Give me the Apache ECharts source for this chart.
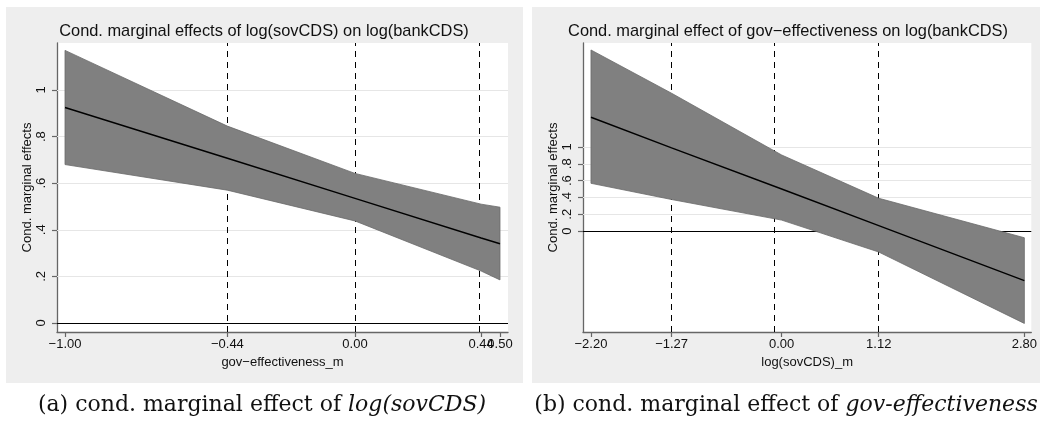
<!DOCTYPE html>
<html>
<head>
<meta charset="utf-8">
<script src="https://cdn.jsdelivr.net/npm/echarts@6/dist/echarts.min.js"></script>
<style>
html,body{margin:0;padding:0;background:#fff;}
#chart{width:1040px;height:425px;}
</style>
</head>
<body>
<div id="chart"></div>
<script>
// ---- Panel (a): marginal effect of log(sovCDS) vs gov-effectiveness_m ----
const leftX      = [-1, -0.44, 0, 0.435, 0.5];
const leftCenter = [0.925, 0.707, 0.535, 0.365, 0.34];
const leftUpper  = [1.17, 0.845, 0.642, 0.51, 0.497];
const leftLower  = [0.68, 0.57, 0.438, 0.223, 0.185];
const leftXTicks = [-1, -0.44, 0, 0.435, 0.5];
const leftXTickLabels = ['\u22121.00', '\u22120.44', '0.00', '0.44', '0.50'];
const leftVLines = [-0.44, 0, 0.435];

// ---- Panel (b): marginal effect of gov-effectiveness vs log(sovCDS)_m ----
const rightX      = [-2.2, -1.27, 0, 1.12, 2.8];
const rightCenter = [1.354, 0.99, 0.5, 0.065, -0.59];
const rightUpper  = [2.155, 1.64, 0.905, 0.39, -0.08];
const rightLower  = [0.568, 0.375, 0.13, -0.25, -1.10];
const rightXTicks = [-2.2, -1.27, 0, 1.12, 2.8];
const rightXTickLabels = ['\u22122.20', '\u22121.27', '0.00', '1.12', '2.80'];
const rightVLines = [-1.27, -0.08, 1.12];

// ---- shared y ticks ----
const yTicks = [0, 0.2, 0.4, 0.6, 0.8, 1];
const yTickLabels = ['0', '.2', '.4', '.6', '.8', '1'];

const titles = ['Cond. marginal effects of log(sovCDS) on log(bankCDS)',
                'Cond. marginal effect of gov\u2212effectiveness on log(bankCDS)'];
const xNames = ['gov\u2212effectiveness_m', 'log(sovCDS)_m'];
const yName = 'Cond. marginal effects';

const SANS = '"Liberation Sans", Arial, sans-serif';
const AXIS_COL = '#666';

function fmt(ticks, labels) {
  return function (v) {
    for (let i = 0; i < ticks.length; i++) if (Math.abs(ticks[i] - v) < 1e-6) return labels[i];
    return '';
  };
}
function zip(a, b) { return a.map((v, i) => [v, b[i]]); }

function bandRender(xs, lo, hi) {
  return function (params, api) {
    const pts = [];
    for (let i = 0; i < xs.length; i++) pts.push(api.coord([xs[i], hi[i]]));
    for (let i = xs.length - 1; i >= 0; i--) pts.push(api.coord([xs[i], lo[i]]));
    return { type: 'polygon', shape: { points: pts },
             style: { fill: '#808080', stroke: '#6a6a6a', lineWidth: 0.8 } };
  };
}

function xAxisCfg(idx, min, max, ticks, labelValues, ticksAll, labels, name) {
  return {
    type: 'value', gridIndex: idx, min: min, max: max,
    name: name, nameLocation: 'middle', nameGap: 20,
    nameTextStyle: { fontFamily: SANS, fontSize: 13, color: '#111' },
    axisLine: { show: true, onZero: false, lineStyle: { color: AXIS_COL, width: 1.3 } },
    axisTick: { show: true, customValues: ticks, length: 5, lineStyle: { color: AXIS_COL, width: 1.2 } },
    axisLabel: { customValues: labelValues, formatter: fmt(ticksAll, labels), margin: 6,
                 showMinLabel: true, showMaxLabel: true, hideOverlap: false,
                 fontFamily: SANS, fontSize: 13, color: '#111' },
    splitLine: { show: false }
  };
}
// extra label-only axis so that overlapping tick labels are both drawn
function overlayXAxis(idx, min, max, labelValues, ticksAll, labels) {
  return {
    type: 'value', gridIndex: idx, min: min, max: max, position: 'bottom',
    axisLine: { show: false, onZero: false }, axisTick: { show: false },
    axisLabel: { customValues: labelValues, formatter: fmt(ticksAll, labels), margin: 6,
                 showMinLabel: true, showMaxLabel: true, hideOverlap: false,
                 fontFamily: SANS, fontSize: 13, color: '#111' },
    splitLine: { show: false }
  };
}
function yAxisCfg(idx, min, max) {
  return {
    type: 'value', gridIndex: idx, min: min, max: max,
    name: yName, nameLocation: 'middle', nameGap: 23, nameRotate: 90,
    nameTextStyle: { fontFamily: SANS, fontSize: 13, color: '#111' },
    axisLine: { show: true, onZero: false, lineStyle: { color: AXIS_COL, width: 1.3 } },
    axisTick: { show: true, customValues: yTicks, length: 5, lineStyle: { color: AXIS_COL, width: 1.2 } },
    axisLabel: { customValues: yTicks, formatter: fmt(yTicks, yTickLabels), rotate: 90, margin: 9,
                 showMinLabel: true, showMaxLabel: true,
                 fontFamily: SANS, fontSize: 13, color: '#111' },
    splitLine: { show: false }
  };
}

function panelSeries(idx, xs, center, lo, hi, vlines) {
  return [
    { // light grid lines
      type: 'line', xAxisIndex: idx, yAxisIndex: idx, data: [], z: 1, silent: true,
      markLine: { z: 1, silent: true, symbol: 'none', label: { show: false }, animation: false,
        lineStyle: { color: '#e6e6e6', width: 1, type: 'solid' },
        data: yTicks.filter(v => v !== 0).map(v => ({ yAxis: v })) }
    },
    { // zero line and dashed reference lines
      type: 'line', xAxisIndex: idx, yAxisIndex: idx, data: [], z: 2, silent: true,
      markLine: { z: 2, silent: true, symbol: 'none', label: { show: false }, animation: false,
        data: [{ yAxis: 0, lineStyle: { color: '#000', width: 1.2, type: 'solid' } }]
          .concat(vlines.map(v => ({ xAxis: v, lineStyle: { color: '#000', width: 1, type: [6, 5] } }))) }
    },
    { // confidence band
      type: 'custom', xAxisIndex: idx, yAxisIndex: idx, z: 10, silent: true,
      renderItem: bandRender(xs, lo, hi), data: [[xs[0], lo[0]]], encode: { x: 0, y: 1 }
    },
    { // estimate
      type: 'line', xAxisIndex: idx, yAxisIndex: idx, z: 11, silent: true,
      data: zip(xs, center), symbol: 'none', lineStyle: { color: '#000', width: 1.4 }
    }
  ];
}

const leftMainLabelValues = leftXTicks.filter((v, i) => i !== 3);
const leftOverlayLabelValues = [leftXTicks[3]];

const chart = echarts.init(document.getElementById('chart'), null, { renderer: 'canvas' });
const option = {
  animation: false,
  backgroundColor: '#fff',
  graphic: [
    { type: 'rect', z: -100, shape: { x: 6, y: 7, width: 517, height: 376 }, style: { fill: '#eeeeee' } },
    { type: 'rect', z: -100, shape: { x: 532, y: 7, width: 508, height: 376 }, style: { fill: '#eeeeee' } },
    { type: 'text', x: 264, y: 31, style: { text: titles[0], font: '16.4px ' + SANS, fill: '#111', align: 'center', verticalAlign: 'middle' } },
    { type: 'text', x: 788, y: 31, style: { text: titles[1], font: '16.4px ' + SANS, fill: '#111', align: 'center', verticalAlign: 'middle' } },
    { type: 'text', x: 262, y: 405, style: {
        text: '{n|(a) cond. marginal effect of }{i|log(sovCDS)}', align: 'center', verticalAlign: 'middle',
        rich: { n: { font: '22px "DejaVu Serif", serif', fill: '#111' },
                i: { font: 'italic 22px "DejaVu Serif", serif', fill: '#111' } } } },
    { type: 'text', x: 786, y: 405, style: {
        text: '{n|(b) cond. marginal effect of }{i|gov-effectiveness}', align: 'center', verticalAlign: 'middle',
        rich: { n: { font: '22px "DejaVu Serif", serif', fill: '#111' },
                i: { font: 'italic 22px "DejaVu Serif", serif', fill: '#111' } } } }
  ],
  grid: [
    { left: 57, top: 43, width: 451, height: 289, show: true, backgroundColor: '#fff', borderWidth: 0 },
    { left: 583, top: 43, width: 450, height: 289, show: true, backgroundColor: '#fff', borderWidth: 0 }
  ],
  xAxis: [
    xAxisCfg(0, -1.0276, 0.5276, leftXTicks, leftMainLabelValues, leftXTicks, leftXTickLabels, xNames[0]),
    xAxisCfg(1, -2.292, 2.88, rightXTicks, rightXTicks, rightXTicks, rightXTickLabels, xNames[1]),
    overlayXAxis(0, -1.0276, 0.5276, leftOverlayLabelValues, leftXTicks, leftXTickLabels)
  ],
  yAxis: [
    yAxisCfg(0, -0.0386, 1.2017),
    yAxisCfg(1, -1.202, 2.238)
  ],
  series: panelSeries(0, leftX, leftCenter, leftLower, leftUpper, leftVLines)
    .concat(panelSeries(1, rightX, rightCenter, rightLower, rightUpper, rightVLines))
};
chart.setOption(option);
</script>
</body>
</html>
